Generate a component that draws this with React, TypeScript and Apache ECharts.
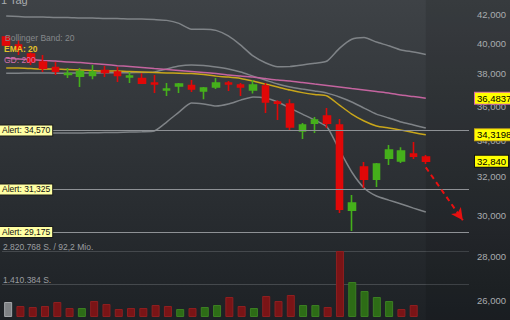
import React, { useEffect, useRef } from "react";
import * as echarts from "echarts";

const FONT = '"Liberation Sans", Arial, sans-serif';
const SLOTS = 38;
const slotLabels = Array.from({ length: SLOTS }, (_, i) => `T${i + 1}`);

// [open, close, low, high]
const ohlc: number[][] = [
  [40420, 39880, 39810, 40480],
  [39880, 39610, 39220, 40210],
  [39280, 38760, 38570, 39410],
  [38760, 38370, 38120, 39220],
  [38410, 38180, 37930, 38760],
  [37960, 38020, 37740, 38370],
  [37860, 38150, 37180, 38370],
  [37900, 38120, 37670, 38570],
  [38210, 38090, 37800, 38500],
  [38120, 37900, 37490, 38440],
  [37800, 37860, 37420, 38120],
  [37710, 37420, 37360, 38050],
  [37420, 37360, 36800, 37930],
  [36990, 37050, 36620, 37420],
  [37240, 37360, 36800, 37420],
  [37270, 37050, 36870, 37610],
  [36930, 37110, 36430, 37180],
  [37180, 37420, 37050, 37740],
  [37420, 37360, 36930, 37550],
  [37300, 37180, 36620, 37420],
  [36990, 37300, 36770, 37610],
  [37240, 36260, 35590, 37420],
  [36260, 36190, 35180, 36370],
  [36130, 34770, 34540, 36430],
  [34540, 34890, 34080, 35000],
  [35000, 35180, 34420, 35360],
  [35410, 35000, 34710, 35890],
  [34890, 30310, 30110, 35240],
  [30260, 30620, 29220, 31030],
  [32520, 31870, 31400, 32790],
  [31870, 32680, 31450, 32740],
  [33010, 33460, 32630, 33740],
  [32850, 33400, 32740, 33620],
  [33230, 33120, 32960, 33910],
  [33070, 32840, 32680, 33180],
];

const volumes = [
  641000, 470000, 427000, 470000, 641000, 385000, 385000, 684000, 556000, 342000,
  385000, 385000, 513000, 470000, 342000, 385000, 427000, 513000, 855000, 470000,
  385000, 897000, 684000, 940000, 513000, 513000, 427000, 2820768, 1496000, 1111000,
  855000, 684000, 342000, 513000,
];
const turnover = "92,2 Mio.";

const ema20 = [
  38370, 38370, 38340, 38310, 38310, 38280, 38250, 38210, 38180, 38180,
  38150, 38120, 38090, 38060, 38050, 38020, 37960, 37860, 37800, 37710,
  37550, 37360, 37180, 36990, 36830, 36710, 36620, 36070, 35530, 35120,
  34830, 34710, 34590, 34450, 34319.8,
];

const gd200 = [
  39020, 38955, 38920, 38860, 38825, 38760, 38730, 38660, 38600, 38530,
  38470, 38405, 38340, 38280, 38215, 38150, 38085, 38025, 37925, 37865,
  37800, 37705, 37610, 37550, 37455, 37360, 37270, 37175, 37080, 36990,
  36895, 36805, 36680, 36590, 36483.7,
];

const bbUpper = [
  41860, 41825, 41790, 41790, 41755, 41755, 41720, 41720, 41685, 41685,
  41650, 41650, 41615, 41560, 41350, 40950, 40950, 40870, 40490, 39870,
  39160, 38720, 38460, 38470, 38570, 38680, 38830, 39660, 40270, 40380,
  40080, 39830, 39550, 39420, 39260,
];
const bbMiddle = [
  38050, 38050, 38060, 38060, 38050, 38050, 38060, 38060, 38070, 38070,
  38080, 38090, 38120, 38310, 38500, 38570, 38540, 38440, 38310, 38120,
  37860, 37610, 37360, 37180, 37050, 36930, 36800, 36560, 36260, 35890,
  35530, 35300, 35060, 34890, 34710,
];
const bbLower = [
  34420, 34420, 34420, 34420, 34420, 34420, 34420, 34440, 34450, 34460,
  34480, 34500, 34540, 35060, 35650, 36190, 36130, 36010, 36130, 36370,
  36560, 36500, 36260, 35890, 35530, 35180, 34770, 33460, 32250, 31400,
  30980, 30770, 30570, 30360, 30160,
];

const alertLevels = [34570, 31325, 29175];
const priceTicks = [26000, 28000, 30000, 32000, 34000, 36000, 38000, 40000, 42000];
const forecastStart = 32500;
const forecastEnd = 29750;
const forecastSlot = 37;

const UP = "#45b01b";
const DOWN = "#e00808";
const HIDDEN_LINE = { color: "rgba(0,0,0,0)", width: 0 };

const fmtEn = (v: number) => v.toLocaleString("en-US");
const fmtLast = (v: number) => {
  if (Number.isInteger(v)) return fmtEn(v);
  const s = v.toFixed(1).replace(".", "");
  return s.slice(0, 2) + "," + s.slice(2);
};
const fmtDe = (v: number) => String(v).replace(/\B(?=(\d{3})+(?!\d))/g, ".");

export default function App() {
  const ref = useRef<HTMLDivElement>(null);
  useEffect(() => {
    const el = ref.current;
    if (!el) return;
    const chart = echarts.init(el, null, { renderer: "svg" });
    const closes = ohlc.map((d) => d[1]);
    const lastIdx = ohlc.length - 1;
    const lastClose = closes[lastIdx];
    const volMax = Math.max(...volumes);

    const volData = volumes.map((v, i) => {
      let color = "#7f8285";
      let border = "#a4a7aa";
      if (i > 0) {
        if (closes[i] >= closes[i - 1]) {
          color = "#2d6c16";
          border = "#3b7f22";
        } else {
          color = "#7a1416";
          border = "#8e1f20";
        }
      }
      return { value: v, itemStyle: { color, borderColor: border, borderWidth: 1 } };
    });

    const lineBase = (name: string, data: number[], color: string, width: number) => ({
      name,
      type: "line",
      data,
      showSymbol: false,
      symbol: "none",
      smooth: 0.2,
      clip: false,
      lineStyle: { color, width },
      z: 2,
    });

    const boxLabel = (text: string, border: string) => ({
      show: true,
      position: "end",
      distance: 6,
      formatter: text,
      backgroundColor: "#ffff00",
      borderColor: border,
      borderWidth: 1,
      padding: [1, 2, 0, 2],
      color: "#000",
      opacity: 1,
      fontSize: 9.5,
      fontFamily: FONT,
    });

    const option: any = {
      animation: false,
      backgroundColor: new echarts.graphic.LinearGradient(0, 0, 0, 1, [
        { offset: 0, color: "#3e4246" },
        { offset: 1, color: "#1d2125" },
      ]),
      textStyle: { fontFamily: FONT },
      grid: [
        { left: 0, right: 41, top: 0, height: 320 },
        { left: 0, right: 41, top: 251, height: 66 },
      ],
      xAxis: [
        { type: "category", data: slotLabels, gridIndex: 0, boundaryGap: true, show: false },
        { type: "category", data: slotLabels, gridIndex: 1, boundaryGap: true, show: false },
      ],
      yAxis: [
        {
          type: "log",
          gridIndex: 0,
          min: 25180,
          max: 43000,
          show: false,
          splitLine: { show: false },
        },
        {
          type: "value",
          gridIndex: 1,
          min: 0,
          max: volMax,
          interval: volMax / 2,
          axisLine: { show: false },
          axisTick: { show: false },
          splitLine: { show: true, showMinLine: false, lineStyle: { color: "#45494d", width: 1 } },
          axisLabel: {
            inside: true,
            margin: 1,
            align: "left",
            verticalAlign: "bottom",
            color: "#9b9ea1",
            fontSize: 8.5,
            fontFamily: FONT,
            formatter: (v: number) =>
              v === 0 ? "" : fmtDe(v) + " S." + (v === volMax ? " / " + turnover : ""),
          },
        },
      ],
      series: [
        {
          ...lineBase("BB oben", bbUpper, "#7f8387", 1.5),
          markLine: {
            silent: true,
            symbol: "none",
            data: priceTicks.map((t) => ({
              yAxis: t,
              lineStyle: HIDDEN_LINE,
              label: {
                show: true,
                position: "end",
                distance: 8,
                formatter: fmtEn(t),
                color: "#a9acaf",
                opacity: 1,
                fontSize: 9.5,
                fontFamily: FONT,
              },
            })),
          },
        },
        lineBase("BB Mitte", bbMiddle, "#7f8387", 1.5),
        lineBase("BB unten", bbLower, "#7f8387", 1.5),
        {
          ...lineBase("GD 200", gd200, "#c4649f", 1.5),
          markLine: {
            silent: true,
            symbol: "none",
            data: [
              {
                yAxis: gd200[gd200.length - 1],
                lineStyle: HIDDEN_LINE,
                label: boxLabel(fmtLast(gd200[gd200.length - 1]), "#d46aa8"),
              },
            ],
          },
        },
        {
          ...lineBase("EMA 20", ema20, "#c9a61a", 1.5),
          markLine: {
            silent: true,
            symbol: "none",
            data: [
              {
                yAxis: ema20[ema20.length - 1],
                lineStyle: HIDDEN_LINE,
                label: boxLabel(fmtLast(ema20[ema20.length - 1]), "#c9a61a"),
              },
            ],
          },
        },
        {
          name: "Kurs",
          type: "candlestick",
          data: ohlc,
          barWidth: 7,
          clip: false,
          z: 3,
          itemStyle: {
            color: UP,
            color0: DOWN,
            borderColor: UP,
            borderColor0: DOWN,
            borderWidth: 1.6,
          },
          markLine: {
            silent: true,
            symbol: "none",
            z: 5,
            data: [
              ...alertLevels.map((v) => ({
                yAxis: v,
                lineStyle: { color: "#8e9195", width: 1, type: "solid" },
                label: {
                  show: true,
                  position: "insideStart",
                  distance: 0,
                  formatter: "Alert: " + fmtEn(v),
                  backgroundColor: "#ffffa3",
                  borderColor: "#1a1a1a",
                  borderWidth: 1,
                  padding: [1, 2, 0, 2],
                  color: "#111",
                  fontSize: 8.5,
                  fontFamily: FONT,
                },
              })),
              {
                yAxis: lastClose,
                lineStyle: HIDDEN_LINE,
                label: boxLabel(fmtLast(lastClose), "#111"),
              },
              [
                {
                  coord: [lastIdx, forecastStart],
                  symbol: "none",
                  lineStyle: { color: "#e81010", width: 2, type: [5, 4] },
                  label: { show: false },
                },
                {
                  coord: [forecastSlot, forecastEnd],
                  symbol: "arrow",
                  symbolSize: [9, 12],
                },
              ],
            ],
          },
        },
        {
          name: "Volumen",
          type: "bar",
          xAxisIndex: 1,
          yAxisIndex: 1,
          data: volData,
          barWidth: 8,
          z: 2,
        },
      ],
    };

    chart.setOption(option);
    const edge = chart.convertToPixel({ xAxisIndex: 0 }, lastIdx) as number;
    chart.setOption({
      graphic: [
        {
          type: "rect",
          silent: true,
          z: 0,
          shape: { x: edge, y: 0, width: 510 - edge, height: 320 },
          style: { fill: "rgba(0,0,0,0.1)" },
        },
        {
          type: "text",
          x: 1,
          y: 5,
          z: 100,
          style: { text: "1 Tag", fill: "#a9acaf", font: `11px ${FONT}`, verticalAlign: "bottom" },
        },
        {
          type: "text",
          x: 5,
          y: 37.5,
          z: 100,
          style: { text: "Bollinger Band: 20", fill: "#85888b", font: `8.5px ${FONT}`, verticalAlign: "middle" },
        },
        {
          type: "text",
          x: 4,
          y: 49,
          z: 100,
          style: { text: "EMA: 20", fill: "#e3c22a", font: `bold 8.5px ${FONT}`, verticalAlign: "middle" },
        },
        {
          type: "text",
          x: 4,
          y: 60,
          z: 100,
          style: { text: "GD: 200", fill: "#d070ac", font: `8.5px ${FONT}`, verticalAlign: "middle" },
        },
      ],
    });

    return () => chart.dispose();
  }, []);

  return (
    <div
      ref={ref}
      style={{ position: "fixed", left: 0, top: 0, width: 510, height: 320 }}
    />
  );
}
